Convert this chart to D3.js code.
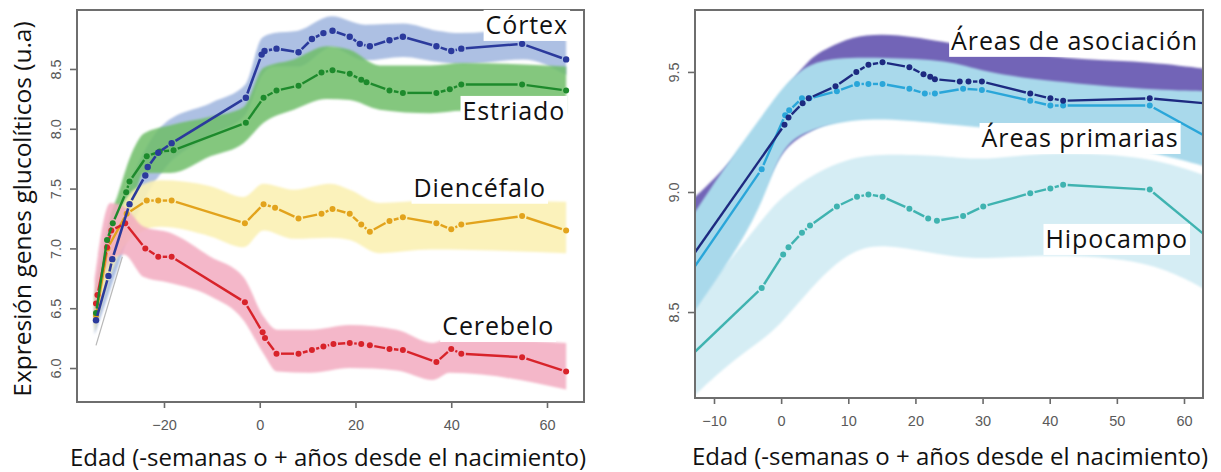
<!DOCTYPE html>
<html><head><meta charset="utf-8">
<script src="https://cdn.jsdelivr.net/npm/d3@7"></script>
<style>body{margin:0;background:#fff}svg{display:block}</style>
</head><body>
<svg id="c" width="1221" height="472"></svg>
<script>
// ---------------- DATA: left panel ----------------
const cortexX = [-34.2,-31.6,-30.8,-27.2,-23.9,-23.4,-21.2,-18.4,-2.9,0.4,1.0,3.5,8.1,10.9,13.3,15.2,18.8,20.9,23.0,27.1,29.9,36.9,40.0,42.1,54.8,64.0];
const cortexY = [6.40,6.77,6.91,7.37,7.61,7.68,7.80,7.88,8.26,8.62,8.65,8.67,8.64,8.75,8.80,8.82,8.77,8.71,8.69,8.74,8.77,8.69,8.65,8.67,8.71,8.58];
const striatumX = [-34.2,-31.9,-30.7,-27.9,-27.2,-23.6,-20.9,-18.0,-2.9,0.8,3.5,8.1,12.9,15.2,18.8,21.2,22.3,27.1,29.9,36.9,39.7,42.1,54.8,64.0];
const striatumY = [6.46,7.07,7.21,7.47,7.56,7.77,7.81,7.82,8.05,8.26,8.32,8.36,8.47,8.49,8.46,8.41,8.39,8.32,8.30,8.30,8.33,8.37,8.37,8.32];
const diencX = [-34.2,-31.8,-27.8,-23.6,-21.2,-18.4,-3.1,0.8,3.2,8.1,12.9,15.2,18.8,21.2,23.0,27.1,29.9,36.9,40.0,42.1,54.8,64.0];
const diencY = [6.44,7.00,7.29,7.40,7.40,7.40,7.21,7.37,7.34,7.25,7.29,7.33,7.29,7.20,7.14,7.23,7.26,7.21,7.16,7.20,7.27,7.15];
const cerebX = [-34.2,-33.9,-31.9,-31.0,-28.1,-23.9,-21.2,-18.4,-3.1,0.6,1.1,3.5,8.1,10.9,13.3,15.4,18.8,21.2,23.0,27.1,29.9,36.9,40.0,42.1,54.8,64.0];
const cerebY = [6.54,6.61,7.01,7.15,7.21,7.00,6.93,6.93,6.55,6.30,6.25,6.12,6.12,6.15,6.18,6.20,6.21,6.20,6.19,6.16,6.15,6.05,6.16,6.12,6.09,5.97];
// confidence bands [x, low, high]
const cortexBand = [[-34.5,6.28,6.5],[-30,6.8,7.15],[-27,7.15,7.55],[-24,7.42,7.82],[-20,7.66,8.04],[-10,7.95,8.22],[-3,8.12,8.37],[0.5,8.45,8.76],[3,8.52,8.8],[8,8.52,8.82],[15,8.68,8.94],[22,8.57,8.87],[30,8.60,8.88],[37,8.56,8.82],[42,8.54,8.80],[55,8.58,8.83],[64,8.45,8.74]];
const striatumBand = [[-34.5,6.35,6.6],[-31,6.9,7.3],[-29.8,7.0,7.43],[-27,7.3,7.77],[-24.2,7.63,7.96],[-18.7,7.63,8.03],[-10.3,7.77,8.10],[-3.4,7.88,8.18],[0.8,8.05,8.51],[7.1,8.16,8.58],[14,8.25,8.69],[18.8,8.24,8.66],[25,8.16,8.53],[35.6,8.13,8.53],[42.5,8.15,8.55],[64,8.13,8.52]];
const diencBand = [[-34.5,6.3,6.6],[-30,6.9,7.25],[-26.3,7.1,7.49],[-20.8,7.18,7.57],[-10.3,7.10,7.52],[-3.4,7.01,7.43],[0.8,7.15,7.54],[7.1,7.08,7.49],[14.7,7.09,7.54],[18.8,7.07,7.49],[25,6.96,7.38],[35.6,6.99,7.40],[64,6.96,7.39]];
const cerebBand = [[-34.5,6.35,6.75],[-31.2,6.9,7.38],[-28.4,6.95,7.35],[-24.2,6.76,7.18],[-18.7,6.71,7.13],[-10.3,6.60,6.93],[-3.4,6.40,6.76],[0.8,6.12,6.43],[3.6,5.97,6.32],[10.6,5.96,6.32],[18.8,6.0,6.36],[28.6,5.98,6.32],[36.2,5.90,6.21],[39.7,5.96,6.25],[64,5.82,6.21]];
const grayGuide = [[-34.2,6.19],[-28.7,6.93]];
const leftXTicks = [-20,0,20,40,60];
const leftYTicks = [6.0,6.5,7.0,7.5,8.0,8.5];
const leftLabels = ["Córtex","Estriado","Diencéfalo","Cerebelo"];
const leftLabelPos = [[64.4,8.793],[63.8,8.074],[59.8,7.432],[61.5,6.276]];

// ---------------- DATA: right panel ----------------
const assocX = [-13,0.5,1.1,3.2,4.1,8.1,11.2,13.0,15.1,19.1,21.2,22.2,22.9,26.6,27.9,29.9,37.1,40.1,42.0,54.9,64];
const assocY = [8.742,9.28,9.31,9.37,9.39,9.44,9.50,9.53,9.54,9.52,9.49,9.48,9.47,9.46,9.46,9.46,9.41,9.39,9.38,9.39,9.367];
const primX = [-13,-2.9,0.6,1.2,3.1,4.2,8.3,11.3,13.0,15.1,19.1,21.4,22.9,27.1,29.9,37.1,40.1,42.0,54.9,64];
const primY = [8.684,9.095,9.32,9.34,9.39,9.39,9.42,9.45,9.45,9.45,9.43,9.41,9.41,9.43,9.425,9.38,9.36,9.36,9.36,9.22];
const hipoX = [-13,-2.9,0.3,1.1,3.1,4.3,8.3,11.3,13.0,15.1,19.1,21.9,23.2,27.1,30.1,37.1,40.1,42.0,54.9,64];
const hipoY = [8.33,8.60,8.74,8.77,8.83,8.86,8.94,8.98,8.99,8.98,8.93,8.89,8.88,8.90,8.94,8.995,9.015,9.03,9.01,8.80];
const assocBand = [[-13,8.55,8.975],[-9,8.72,9.08],[-3,8.98,9.27],[0,9.18,9.40],[4,9.25,9.555],[7,9.29,9.60],[10.5,9.31,9.647],[15,9.34,9.66],[20,9.33,9.645],[25,9.32,9.62],[35,9.28,9.58],[45,9.26,9.55],[55,9.25,9.543],[64,9.22,9.51]];
const primBand = [[-13,8.50,8.91],[-8,8.70,9.12],[-3,8.93,9.31],[0,9.19,9.43],[3.6,9.25,9.53],[8,9.29,9.56],[15,9.31,9.56],[25,9.28,9.55],[30,9.27,9.50],[40,9.24,9.46],[55,9.17,9.425],[64,9.10,9.42]];
const hipoBand = [[-13,8.15,8.55],[-8,8.28,8.70],[-3,8.38,8.88],[0,8.45,8.98],[5,8.62,9.08],[10,8.75,9.14],[15,8.79,9.16],[25,8.73,9.15],[30,8.72,9.13],[40,8.74,9.17],[55,8.72,9.15],[64,8.58,9.06]];
const rightXTicks = [-10,0,10,20,30,40,50,60];
const rightYTicks = [8.5,9.0,9.5];
const rightLabels = ["Áreas de asociación","Áreas primarias","Hipocampo"];
const rightLabelPos = [[62.1,9.592],[59.2,9.1875],[60.6,8.767]];

const yTitle = "Expresión genes glucolíticos (u.a)";
const xTitle = "Edad (-semanas o + años desde el nacimiento)";

// ---------------- DRAWING ----------------
const svg = d3.select("#c");
svg.append("rect").attr("width",1221).attr("height",472).attr("fill","#fff");
const defs = svg.append("defs");
defs.append("filter").attr("id","soft").append("feGaussianBlur").attr("stdDeviation",0.9);

function makePanel(id, xDom, yDom, box) {
  const x = d3.scaleLinear().domain(xDom).range([box.l, box.r]);
  const y = d3.scaleLinear().domain(yDom).range([box.b, box.t]);
  defs.append("clipPath").attr("id","clip"+id).append("rect")
    .attr("x",box.l).attr("y",box.t).attr("width",box.r-box.l).attr("height",box.b-box.t);
  const g = svg.append("g");
  const plot = g.append("g").attr("clip-path","url(#clip"+id+")");
  return {x,y,g,plot,box};
}

function band(P, data, fill, opacity, curve) {
  const area = d3.area().x(d=>P.x(d[0])).y0(d=>P.y(d[1])).y1(d=>P.y(d[2])).curve(curve);
  P.plot.append("path").attr("d",area(data)).attr("fill",fill).attr("fill-opacity",opacity)
    .attr("filter","url(#soft)");
}

function series(P, xs, ys, color, r, w) {
  const [d0,d1] = P.x.domain();
  const pts = xs.map((v,i)=>({px:P.x(v), py:P.y(ys[i]), dot: v>d0 && v<d1}));
  const gap = 4.5;
  const segs = [];
  for (let i=0;i<pts.length-1;i++){
    const a=pts[i], b=pts[i+1];
    const dx=b.px-a.px, dy=b.py-a.py, L=Math.hypot(dx,dy);
    const ga=a.dot?gap:0, gb=b.dot?gap:0;
    if (L <= ga+gb+0.5) continue;
    const ux=dx/L, uy=dy/L;
    segs.push([a.px+ux*ga, a.py+uy*ga, b.px-ux*gb, b.py-uy*gb]);
  }
  const sg = P.plot.append("g");
  sg.selectAll("line").data(segs).join("line")
    .attr("x1",d=>d[0]).attr("y1",d=>d[1]).attr("x2",d=>d[2]).attr("y2",d=>d[3])
    .attr("stroke",color).attr("stroke-width",w).attr("stroke-linecap","butt");
  sg.selectAll("circle").data(pts.filter(p=>p.dot)).join("circle")
    .attr("cx",d=>d.px).attr("cy",d=>d.py).attr("r",r).attr("fill",color);
}

function axes(P, xt, yt) {
  const b=P.box;
  const ax = P.g.append("g").attr("transform",`translate(0,${b.b})`)
    .call(d3.axisBottom(P.x).tickValues(xt).tickSize(6).tickFormat(d3.format("d")));
  ax.select(".domain").remove();
  ax.selectAll(".tick line").attr("stroke","#6a6a6a").attr("stroke-width",1.6);
  ax.selectAll(".tick text").attr("y",22.5).attr("dy","0.35em")
    .attr("font-family","Liberation Sans, Arial, sans-serif").attr("font-size",14.5).attr("fill","#5a5a5a");
  const ay = P.g.append("g").attr("transform",`translate(${b.l},0)`)
    .call(d3.axisLeft(P.y).tickValues(yt).tickSize(7).tickFormat(d3.format(".1f")));
  ay.select(".domain").remove();
  ay.selectAll(".tick line").attr("stroke","#6a6a6a").attr("stroke-width",1.6);
  ay.selectAll(".tick text").attr("x",null).attr("dy","0.35em").attr("text-anchor","middle")
    .attr("transform","translate(-21,0) rotate(-90)")
    .attr("font-family","Liberation Sans, Arial, sans-serif").attr("font-size",14.5).attr("fill","#5a5a5a");
  P.g.append("rect").attr("x",b.l).attr("y",b.t).attr("width",b.r-b.l).attr("height",b.b-b.t)
    .attr("fill","none").attr("stroke","#6e6e6e").attr("stroke-width",2);
}

function labels(P, names, pos) {
  names.forEach((n,i)=>{
    const lg = P.g.append("g");
    const t = lg.append("text").attr("x",P.x(pos[i][0])).attr("y",P.y(pos[i][1]))
      .attr("text-anchor","end").attr("font-family","Open Sans, sans-serif").attr("font-size",25)
      .attr("letter-spacing","0.9px").attr("fill","#111").text(n);
    const bb = t.node().getBBox();
    lg.insert("rect","text").attr("x",bb.x-2).attr("y",bb.y+3).attr("width",bb.width+4).attr("height",bb.height-3)
      .attr("fill","#fff");
  });
}

// Left panel
const L = makePanel("L", [-38.17,67.73], [5.716,8.993], {l:77,r:584,t:10,b:402});
band(L, cortexBand, "#a9bde2", 0.95, d3.curveMonotoneX);
band(L, striatumBand, "#6fbd68", 0.85, d3.curveMonotoneX);
band(L, diencBand, "#fbf1b4", 0.9, d3.curveMonotoneX);
band(L, cerebBand, "#f2aac0", 0.85, d3.curveMonotoneX);
L.plot.append("path").attr("d",d3.line().x(d=>L.x(d[0])).y(d=>L.y(d[1]))(grayGuide))
  .attr("stroke","#b8b8b8").attr("stroke-width",1.2).attr("fill","none");
series(L, diencX, diencY, "#e2a31c", 3, 2.4);
series(L, cerebX, cerebY, "#d8232a", 3, 2.4);
series(L, striatumX, striatumY, "#1d8a2c", 3, 2.4);
series(L, cortexX, cortexY, "#2b3a9c", 3.2, 2.6);
axes(L, leftXTicks, leftYTicks);
labels(L, leftLabels, leftLabelPos);

// Right panel
const R = makePanel("R", [-12.83,62.83], [8.142,9.758], {l:695,r:1203,t:10,b:398});
band(R, hipoBand, "#d3ecf3", 0.95, d3.curveBasis);
band(R, assocBand, "#6a5cb3", 0.95, d3.curveBasis);
band(R, primBand, "#a9d9eb", 1, d3.curveBasis);
series(R, hipoX, hipoY, "#3fb3b0", 3, 2.4);
series(R, primX, primY, "#2aa6d9", 3, 2.4);
series(R, assocX, assocY, "#1d2a80", 3, 2.4);
axes(R, rightXTicks, rightYTicks);
labels(R, rightLabels, rightLabelPos);

// Titles
svg.append("text").attr("x",328).attr("y",466).attr("text-anchor","middle")
  .attr("font-family","Open Sans, sans-serif").attr("font-size",24).attr("fill","#111").text(xTitle);
svg.append("text").attr("x",950).attr("y",465).attr("text-anchor","middle")
  .attr("font-family","Open Sans, sans-serif").attr("font-size",24).attr("fill","#111").text(xTitle);
svg.append("text").attr("transform","translate(31,209) rotate(-90)").attr("text-anchor","middle")
  .attr("font-family","Open Sans, sans-serif").attr("font-size",24.5).attr("fill","#111").text(yTitle);
</script>
</body></html>
